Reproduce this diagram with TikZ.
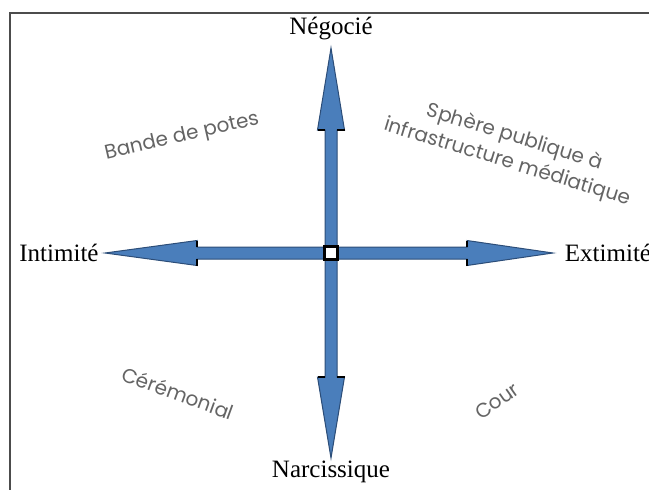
\documentclass[tikz,border=0pt]{standalone}
\usepackage{fontspec}
\setmainfont{Liberation Serif}
\newfontfamily\comicfont{Poppins}
\usetikzlibrary{positioning,calc}

\definecolor{axisfill}{RGB}{74,126,187}
\definecolor{axisline}{RGB}{44,77,120}
\definecolor{quadgray}{RGB}{100,100,100}

\begin{document}
\begin{tikzpicture}[
    x=0.5pt, y=-0.5pt,
    pole/.style={font=\fontsize{12.5}{15}\selectfont, inner sep=1pt},
    quad/.style={font=\comicfont\fontsize{10}{13}\selectfont, text=quadgray, align=center, inner sep=0pt},
    axis/.style={fill=axisfill, draw=axisline, line width=0.5pt, line join=miter},
    shoulder/.style={draw=black, line width=1.3pt},
    centre/.style={draw=black, line width=1.5pt, fill=white, minimum size=6.5pt, inner sep=0pt}
  ]
  \useasboundingbox (0,0) rectangle (649,489);
  \draw[gray!60!black, line width=0.6pt] (10,500) -- (10,13) -- (660,13);

  \coordinate (O) at (331,253);

  % direction / length / head length / head half width
  \foreach \ang/\len/\hl/\hw in {90/205/82/13.5, 270/205/81/13.5, 180/226/92/12.5, 0/222/86/12.5}{
    \begin{scope}[shift={(O)}, rotate=\ang]
      \path[axis] (0,-6) -- (\len-\hl,-6) -- (\len-\hl,-\hw) -- (\len,0)
        -- (\len-\hl,\hw) -- (\len-\hl,6) -- (0,6) -- cycle;
      \draw[shoulder] (\len-\hl,-6) -- (\len-\hl,-\hw);
      \draw[shoulder] (\len-\hl,6) -- (\len-\hl,\hw);
    \end{scope}
  }
  \node[centre] (C) at (O) {};

  \node[pole] (neg) at (331,28) {Négocié};
  \node[pole] (nar) at (331,472) {Narcissique};
  \node[pole] (int) at (59,253) {Intimité};
  \node[pole] (ext) at (608,253) {Extimité};

  \node[quad, rotate=13] (bande) at (182,137) {Bande de potes};
  \node[quad, rotate=-17] (sphere) at (511,150) {Sphère publique à\\infrastructure médiatique};
  \node[quad, rotate=-20] (cere) at (178,393) {Cérémonial};
  \node[quad, rotate=35] (cour) at (497,401) {Cour};
\end{tikzpicture}
\end{document}
